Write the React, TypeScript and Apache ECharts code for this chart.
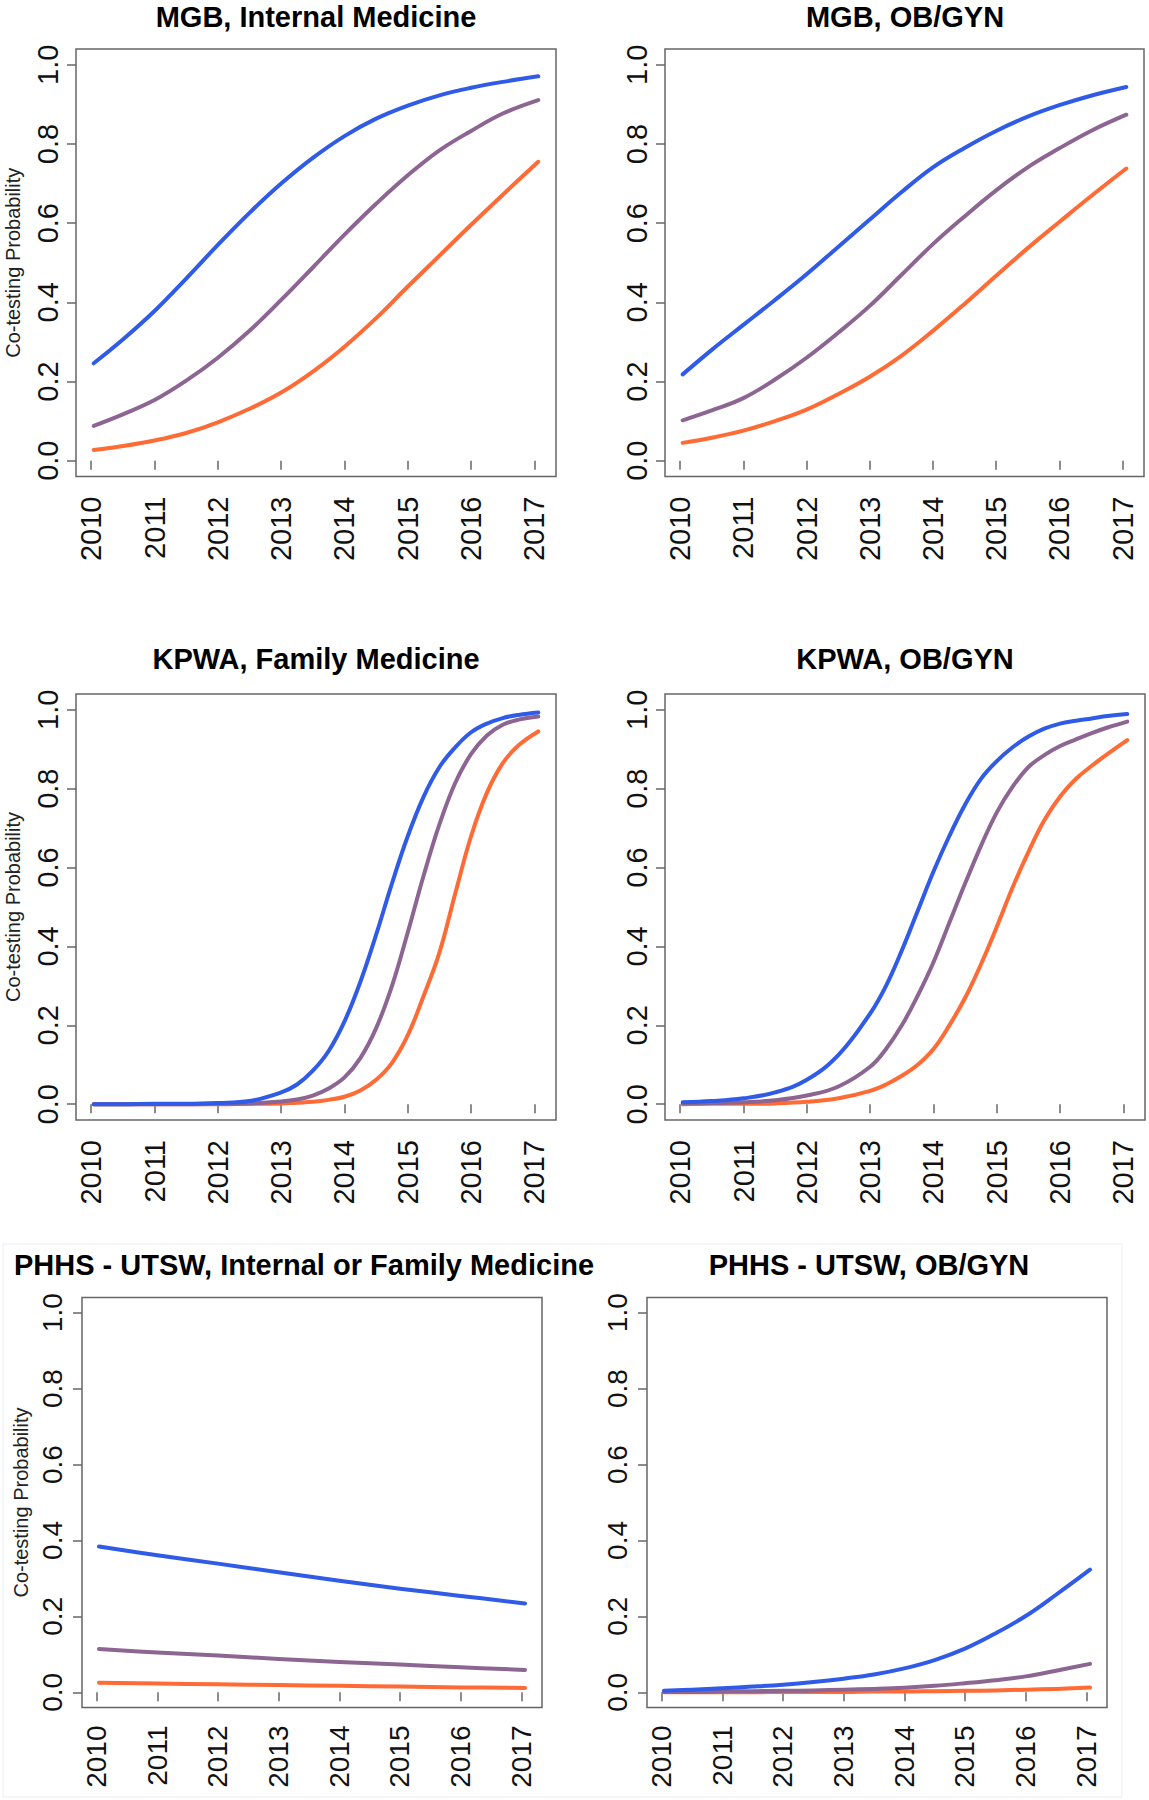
import React, { useEffect, useRef } from "react";
import * as echarts from "echarts";

// ---------- data ----------
const yearTicks = [2010, 2011, 2012, 2013, 2014, 2015, 2016, 2017];
const probTicks = [0, 0.2, 0.4, 0.6, 0.8, 1.0];
const yAxisTitle = "Co-testing Probability";

const panelTitles = [
  "MGB, Internal Medicine",
  "MGB, OB/GYN",
  "KPWA, Family Medicine",
  "KPWA, OB/GYN",
  "PHHS - UTSW, Internal or Family Medicine",
  "PHHS - UTSW, OB/GYN",
];

// MGB (half-year grid)
const mgbYears = [2010.04, 2010.5, 2011, 2011.5, 2012, 2012.5, 2013, 2013.5, 2014, 2014.5, 2015, 2015.5, 2016, 2016.5, 2017.06];
const mgbImBlue = [0.246, 0.306, 0.378, 0.460, 0.545, 0.626, 0.700, 0.765, 0.820, 0.864, 0.897, 0.923, 0.942, 0.957, 0.971];
const mgbImPurple = [0.088, 0.117, 0.153, 0.202, 0.260, 0.328, 0.406, 0.488, 0.571, 0.649, 0.721, 0.784, 0.833, 0.877, 0.911];
const mgbImOrange = [0.027, 0.037, 0.051, 0.070, 0.097, 0.131, 0.172, 0.225, 0.288, 0.360, 0.440, 0.518, 0.596, 0.672, 0.755];
const mgbObBlue = [0.218, 0.280, 0.343, 0.406, 0.471, 0.540, 0.609, 0.678, 0.741, 0.790, 0.833, 0.869, 0.898, 0.922, 0.944];
const mgbObPurple = [0.102, 0.127, 0.158, 0.205, 0.260, 0.323, 0.391, 0.469, 0.547, 0.617, 0.683, 0.741, 0.789, 0.833, 0.874];
const mgbObOrange = [0.045, 0.058, 0.076, 0.100, 0.129, 0.168, 0.212, 0.265, 0.328, 0.396, 0.467, 0.537, 0.603, 0.668, 0.738];

// KPWA (finer grid where the curves are steep)
const kpwaYears = [2010.04, 2010.5, 2011, 2011.5, 2012, 2012.5, 2013, 2013.25, 2013.5, 2013.75, 2014, 2014.25, 2014.5, 2014.75, 2015, 2015.25, 2015.5, 2015.75, 2016, 2016.25, 2016.5, 2016.75, 2017.06];
const kpwaFmBlue = [0.0, 0.0, 0.001, 0.001, 0.003, 0.008, 0.03, 0.05, 0.085, 0.135, 0.21, 0.31, 0.43, 0.56, 0.68, 0.78, 0.855, 0.905, 0.943, 0.965, 0.979, 0.987, 0.993];
const kpwaFmPurple = [0.0, 0.0, 0.0, 0.0, 0.001, 0.002, 0.007, 0.012, 0.022, 0.04, 0.068, 0.117, 0.193, 0.30, 0.436, 0.58, 0.71, 0.815, 0.888, 0.935, 0.962, 0.975, 0.983];
const kpwaFmOrange = [0.0, 0.0, 0.0, 0.0, 0.0, 0.001, 0.002, 0.004, 0.006, 0.011, 0.019, 0.035, 0.062, 0.105, 0.175, 0.275, 0.385, 0.535, 0.68, 0.79, 0.865, 0.91, 0.945];
const kpwaObBlue = [0.005, 0.008, 0.015, 0.03, 0.062, 0.125, 0.23, 0.30, 0.39, 0.49, 0.59, 0.68, 0.76, 0.825, 0.87, 0.905, 0.932, 0.952, 0.965, 0.972, 0.978, 0.984, 0.989];
const kpwaObPurple = [0.002, 0.003, 0.005, 0.01, 0.022, 0.045, 0.095, 0.14, 0.20, 0.275, 0.36, 0.46, 0.56, 0.655, 0.74, 0.805, 0.855, 0.885, 0.908, 0.925, 0.941, 0.955, 0.970];
const kpwaObOrange = [0.0, 0.001, 0.001, 0.002, 0.006, 0.015, 0.034, 0.05, 0.072, 0.10, 0.14, 0.20, 0.27, 0.355, 0.45, 0.55, 0.64, 0.72, 0.78, 0.825, 0.858, 0.888, 0.923];

// PHHS - UTSW
const phhsImYears = [2010.04, 2011, 2012, 2013, 2014, 2015, 2016, 2017.06];
const phhsImBlue = [0.384, 0.361, 0.339, 0.316, 0.294, 0.273, 0.254, 0.234];
const phhsImPurple = [0.114, 0.105, 0.097, 0.088, 0.080, 0.073, 0.066, 0.059];
const phhsImOrange = [0.025, 0.023, 0.021, 0.019, 0.017, 0.015, 0.013, 0.0115];
const phhsObYears = [2010.04, 2010.5, 2011, 2011.5, 2012, 2012.5, 2013, 2013.5, 2014, 2014.5, 2015, 2015.5, 2016, 2016.5, 2017.06];
const phhsObBlue = [0.004, 0.007, 0.011, 0.015, 0.020, 0.027, 0.036, 0.047, 0.063, 0.085, 0.115, 0.155, 0.201, 0.257, 0.323];
const phhsObPurple = [0.001, 0.001, 0.002, 0.003, 0.004, 0.005, 0.007, 0.009, 0.012, 0.017, 0.024, 0.032, 0.042, 0.057, 0.075];
const phhsObOrange = [0.0, 0.0, 0.0, 0.0, 0.001, 0.001, 0.001, 0.002, 0.002, 0.003, 0.004, 0.005, 0.007, 0.009, 0.0125];

const panelData = [
  { years: mgbYears, blue: mgbImBlue, purple: mgbImPurple, orange: mgbImOrange },
  { years: mgbYears, blue: mgbObBlue, purple: mgbObPurple, orange: mgbObOrange },
  { years: kpwaYears, blue: kpwaFmBlue, purple: kpwaFmPurple, orange: kpwaFmOrange },
  { years: kpwaYears, blue: kpwaObBlue, purple: kpwaObPurple, orange: kpwaObOrange },
  { years: phhsImYears, blue: phhsImBlue, purple: phhsImPurple, orange: phhsImOrange },
  { years: phhsObYears, blue: phhsObBlue, purple: phhsObPurple, orange: phhsObOrange },
];

// ---------- layout / style ----------
const FONT = '"Liberation Sans", Arial, Helvetica, sans-serif';
const COLORS = { blue: "#2f5be6", purple: "#8d6592", orange: "#ff6a35" };
const BOX = "#666666";

const layouts = [
  { left: 76, top: 49, width: 480, height: 427.5, tx: 316, ty: 17, fs: 29, showName: true, nameGap: 53, yMargin: 14, xMargin: 20 },
  { left: 665, top: 49, width: 479, height: 427.5, tx: 905, ty: 17, fs: 29, showName: false, nameGap: 53, yMargin: 14, xMargin: 20 },
  { left: 76, top: 694, width: 480, height: 426, tx: 316, ty: 659, fs: 29, showName: true, nameGap: 53, yMargin: 14, xMargin: 20 },
  { left: 665, top: 694, width: 480, height: 426, tx: 905, ty: 659, fs: 29, showName: false, nameGap: 53, yMargin: 14, xMargin: 20 },
  { left: 82, top: 1297.5, width: 460, height: 410, tx: 304, ty: 1265, fs: 28, showName: true, nameGap: 51, yMargin: 16, xMargin: 18 },
  { left: 647, top: 1297.5, width: 460, height: 410, tx: 869, ty: 1265, fs: 28, showName: false, nameGap: 51, yMargin: 16, xMargin: 18 },
];

function buildOption() {
  const grid = layouts.map((l) => ({
    left: l.left,
    top: l.top,
    width: l.width,
    height: l.height,
    show: true,
    borderColor: BOX,
    borderWidth: 1.5,
    backgroundColor: "transparent",
  }));

  const xAxis = layouts.map((l, i) => ({
    gridIndex: i,
    type: "value",
    min: 2009.76,
    max: 2017.34,
    axisLine: { show: false },
    splitLine: { show: false },
    axisTick: { show: true, length: 9, lineStyle: { color: BOX, width: 1.5 }, customValues: yearTicks },
    axisLabel: {
      customValues: yearTicks,
      rotate: 90,
      margin: l.xMargin,
      fontSize: l.fs,
      fontFamily: FONT,
      color: "#111",
      formatter: (v: number) => String(Math.round(v)),
    },
  }));

  const yAxis = layouts.map((l, i) => ({
    gridIndex: i,
    type: "value",
    min: -0.04,
    max: 1.04,
    name: l.showName ? yAxisTitle : "",
    nameLocation: "middle",
    nameRotate: 90,
    nameGap: l.nameGap,
    nameTextStyle: { fontSize: 20, fontFamily: FONT, color: "#222" },
    axisLine: { show: false },
    splitLine: { show: false },
    axisTick: { show: true, length: 9, lineStyle: { color: BOX, width: 1.5 }, customValues: probTicks },
    axisLabel: {
      customValues: probTicks,
      rotate: 90,
      margin: l.yMargin,
      fontSize: l.fs,
      fontFamily: FONT,
      color: "#111",
      formatter: (v: number) => v.toFixed(1),
    },
  }));

  const series: any[] = [];
  panelData.forEach((p, i) => {
    (["orange", "purple", "blue"] as const).forEach((key) => {
      const vals = (p as any)[key] as number[];
      series.push({
        name: key,
        type: "line",
        xAxisIndex: i,
        yAxisIndex: i,
        data: p.years.map((x, j) => [x, vals[j]]),
        showSymbol: false,
        symbol: "none",
        smooth: 0.4,
        lineStyle: { color: COLORS[key], width: 4, cap: "round", join: "round" },
        itemStyle: { color: COLORS[key] },
        silent: true,
      });
    });
  });

  const graphic: any[] = [
    {
      type: "rect",
      shape: { x: 3, y: 1244, width: 1119, height: 553 },
      style: { fill: "none", stroke: "#e8edf5", lineWidth: 1 },
      silent: true,
    },
  ];
  layouts.forEach((l, i) => {
    graphic.push({
      type: "text",
      x: l.tx,
      y: l.ty,
      style: {
        text: panelTitles[i],
        fontSize: 29,
        fontWeight: "bold",
        fontFamily: FONT,
        fill: "#000",
        align: "center",
        verticalAlign: "middle",
        textAlign: "center",
        textVerticalAlign: "middle",
      },
      silent: true,
    });
  });

  return {
    animation: false,
    backgroundColor: "#ffffff",
    grid,
    xAxis,
    yAxis,
    series,
    graphic,
  };
}

export default function App() {
  const ref = useRef<HTMLDivElement>(null);
  useEffect(() => {
    if (!ref.current) return;
    const chart = echarts.init(ref.current, undefined, { renderer: "svg" });
    chart.setOption(buildOption() as any);
    return () => chart.dispose();
  }, []);
  return (
    <div
      ref={ref}
      style={{ position: "absolute", left: 0, top: 0, width: 1149, height: 1800, background: "#fff" }}
    />
  );
}
